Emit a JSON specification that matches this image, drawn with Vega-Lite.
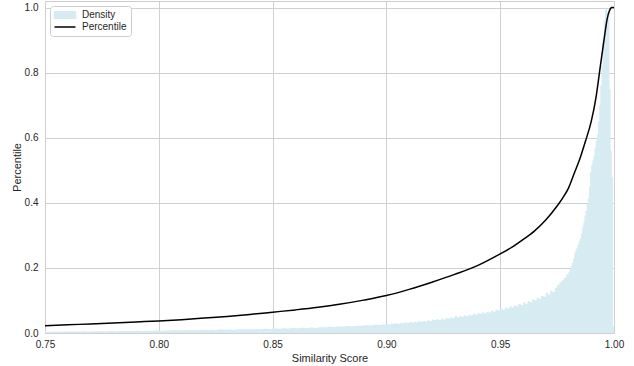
{
  "$schema": "https://vega.github.io/schema/vega-lite/v6.json",
  "width": 569,
  "height": 332,
  "autosize": "none",
  "padding": {"left": 45, "top": 1, "right": 20, "bottom": 33},
  "background": "white",
  "datasets": {
    "hist": [
      {"score":0.750,"density":0.0041},{"score":0.752,"density":0.0038},{"score":0.754,"density":0.0044},{"score":0.756,"density":0.0042},{"score":0.758,"density":0.0047},
      {"score":0.760,"density":0.0044},{"score":0.762,"density":0.0049},{"score":0.764,"density":0.0046},{"score":0.766,"density":0.0051},{"score":0.768,"density":0.0048},
      {"score":0.770,"density":0.0053},{"score":0.772,"density":0.0050},{"score":0.774,"density":0.0056},{"score":0.776,"density":0.0053},{"score":0.778,"density":0.0059},
      {"score":0.780,"density":0.0056},{"score":0.782,"density":0.0062},{"score":0.784,"density":0.0059},{"score":0.786,"density":0.0065},{"score":0.788,"density":0.0062},
      {"score":0.790,"density":0.0068},{"score":0.792,"density":0.0064},{"score":0.794,"density":0.0071},{"score":0.796,"density":0.0067},{"score":0.798,"density":0.0074},
      {"score":0.800,"density":0.0070},{"score":0.802,"density":0.0078},{"score":0.804,"density":0.0074},{"score":0.806,"density":0.0083},{"score":0.808,"density":0.0079},
      {"score":0.810,"density":0.0086},{"score":0.812,"density":0.0082},{"score":0.814,"density":0.0091},{"score":0.816,"density":0.0087},{"score":0.818,"density":0.0095},
      {"score":0.820,"density":0.0090},{"score":0.822,"density":0.0099},{"score":0.824,"density":0.0095},{"score":0.826,"density":0.0104},{"score":0.828,"density":0.0099},
      {"score":0.830,"density":0.0108},{"score":0.832,"density":0.0103},{"score":0.834,"density":0.0113},{"score":0.836,"density":0.0109},{"score":0.838,"density":0.0119},
      {"score":0.840,"density":0.0114},{"score":0.842,"density":0.0124},{"score":0.844,"density":0.0119},{"score":0.846,"density":0.0131},{"score":0.848,"density":0.0126},
      {"score":0.850,"density":0.0135},{"score":0.852,"density":0.0130},{"score":0.854,"density":0.0143},{"score":0.856,"density":0.0139},{"score":0.858,"density":0.0151},
      {"score":0.860,"density":0.0146},{"score":0.862,"density":0.0160},{"score":0.864,"density":0.0155},{"score":0.866,"density":0.0170},{"score":0.868,"density":0.0164},
      {"score":0.870,"density":0.0180},{"score":0.872,"density":0.0174},{"score":0.874,"density":0.0190},{"score":0.876,"density":0.0185},{"score":0.878,"density":0.0202},
      {"score":0.880,"density":0.0196},{"score":0.882,"density":0.0214},{"score":0.884,"density":0.0208},{"score":0.886,"density":0.0226},{"score":0.888,"density":0.0220},
      {"score":0.890,"density":0.0240},{"score":0.892,"density":0.0233},{"score":0.894,"density":0.0252},{"score":0.896,"density":0.0246},{"score":0.898,"density":0.0265},
      {"score":0.900,"density":0.0275},{"score":0.901,"density":0.0262},{"score":0.902,"density":0.0290},{"score":0.903,"density":0.0281},{"score":0.904,"density":0.0300},
      {"score":0.905,"density":0.0286},{"score":0.906,"density":0.0311},{"score":0.907,"density":0.0297},{"score":0.908,"density":0.0322},{"score":0.909,"density":0.0309},
      {"score":0.910,"density":0.0335},{"score":0.911,"density":0.0320},{"score":0.912,"density":0.0349},{"score":0.913,"density":0.0331},{"score":0.914,"density":0.0362},
      {"score":0.915,"density":0.0345},{"score":0.916,"density":0.0371},{"score":0.917,"density":0.0356},{"score":0.918,"density":0.0392},{"score":0.919,"density":0.0370},
      {"score":0.920,"density":0.0405},{"score":0.921,"density":0.0388},{"score":0.922,"density":0.0421},{"score":0.923,"density":0.0402},{"score":0.924,"density":0.0440},
      {"score":0.925,"density":0.0418},{"score":0.926,"density":0.0455},{"score":0.927,"density":0.0437},{"score":0.928,"density":0.0476},{"score":0.929,"density":0.0455},
      {"score":0.930,"density":0.0520},{"score":0.931,"density":0.0478},{"score":0.932,"density":0.0515},{"score":0.933,"density":0.0497},{"score":0.934,"density":0.0538},
      {"score":0.935,"density":0.0515},{"score":0.936,"density":0.0560},{"score":0.937,"density":0.0536},{"score":0.938,"density":0.0582},{"score":0.939,"density":0.0557},
      {"score":0.940,"density":0.0610},{"score":0.941,"density":0.0588},{"score":0.942,"density":0.0632},{"score":0.943,"density":0.0606},{"score":0.944,"density":0.0655},
      {"score":0.945,"density":0.0630},{"score":0.946,"density":0.0683},{"score":0.947,"density":0.0655},{"score":0.948,"density":0.0712},{"score":0.949,"density":0.0690},
      {"score":0.950,"density":0.0750},{"score":0.951,"density":0.0718},{"score":0.952,"density":0.0782},{"score":0.953,"density":0.0752},{"score":0.954,"density":0.0815},
      {"score":0.955,"density":0.0786},{"score":0.956,"density":0.0851},{"score":0.957,"density":0.0820},{"score":0.958,"density":0.0890},{"score":0.959,"density":0.0858},
      {"score":0.960,"density":0.0935},{"score":0.961,"density":0.0902},{"score":0.962,"density":0.0978},{"score":0.963,"density":0.0950},{"score":0.964,"density":0.1030},
      {"score":0.965,"density":0.1000},{"score":0.966,"density":0.1085},{"score":0.967,"density":0.1050},{"score":0.968,"density":0.1140},{"score":0.969,"density":0.1110},
      {"score":0.970,"density":0.1230},{"score":0.971,"density":0.1180},{"score":0.972,"density":0.1300},{"score":0.973,"density":0.1260},{"score":0.974,"density":0.1390},
      {"score":0.975,"density":0.1480},{"score":0.976,"density":0.1560},{"score":0.977,"density":0.1620},{"score":0.978,"density":0.1700},{"score":0.979,"density":0.1800},
      {"score":0.9800,"density":0.188},{"score":0.9805,"density":0.196},{"score":0.9810,"density":0.205},{"score":0.9815,"density":0.215},{"score":0.9820,"density":0.228},
      {"score":0.9825,"density":0.245},{"score":0.9830,"density":0.255},{"score":0.9835,"density":0.262},{"score":0.9840,"density":0.272},{"score":0.9845,"density":0.283},
      {"score":0.9850,"density":0.290},{"score":0.9855,"density":0.305},{"score":0.9860,"density":0.325},{"score":0.9865,"density":0.340},{"score":0.9870,"density":0.360},
      {"score":0.9875,"density":0.375},{"score":0.9880,"density":0.395},{"score":0.9885,"density":0.415},{"score":0.9890,"density":0.450},{"score":0.9895,"density":0.495},
      {"score":0.9900,"density":0.515},{"score":0.9905,"density":0.530},{"score":0.9910,"density":0.545},{"score":0.9915,"density":0.570},{"score":0.9920,"density":0.590},
      {"score":0.9925,"density":0.610},{"score":0.9930,"density":0.650},{"score":0.9935,"density":0.700},{"score":0.9940,"density":0.760},{"score":0.9945,"density":0.820},
      {"score":0.9950,"density":0.900},{"score":0.9955,"density":0.960},{"score":0.9960,"density":1.000},{"score":0.9965,"density":0.995},{"score":0.9970,"density":0.985},
      {"score":0.9975,"density":0.990},{"score":0.9980,"density":0.750},{"score":0.9985,"density":0.560},{"score":0.9990,"density":0.480},{"score":0.9995,"density":0.020},
      {"score":1.0000,"density":0.0}
    ],
    "cdf": [
      {"score":0.75,"pct":0.022},{"score":0.76,"pct":0.025},{"score":0.77,"pct":0.028},{"score":0.78,"pct":0.031},{"score":0.79,"pct":0.034},
      {"score":0.80,"pct":0.037},{"score":0.81,"pct":0.041},{"score":0.82,"pct":0.046},{"score":0.83,"pct":0.051},{"score":0.84,"pct":0.057},
      {"score":0.85,"pct":0.064},{"score":0.86,"pct":0.071},{"score":0.87,"pct":0.079},{"score":0.88,"pct":0.089},{"score":0.89,"pct":0.101},
      {"score":0.90,"pct":0.115},{"score":0.91,"pct":0.134},{"score":0.92,"pct":0.156},{"score":0.93,"pct":0.180},{"score":0.94,"pct":0.207},
      {"score":0.95,"pct":0.243},{"score":0.955,"pct":0.263},{"score":0.96,"pct":0.287},{"score":0.965,"pct":0.313},{"score":0.97,"pct":0.347},
      {"score":0.975,"pct":0.39},{"score":0.9775,"pct":0.415},{"score":0.98,"pct":0.445},{"score":0.9825,"pct":0.49},{"score":0.985,"pct":0.535},
      {"score":0.9875,"pct":0.59},{"score":0.99,"pct":0.65},{"score":0.992,"pct":0.72},{"score":0.994,"pct":0.82},{"score":0.995,"pct":0.87},
      {"score":0.996,"pct":0.92},{"score":0.997,"pct":0.965},{"score":0.998,"pct":0.99},{"score":0.9985,"pct":0.997},{"score":0.999,"pct":1.0},
      {"score":1.0,"pct":1.0}
    ]
  },
  "layer": [
    {
      "data": {"name": "hist"},
      "mark": {"type": "area", "interpolate": "step-after", "clip": true},
      "encoding": {
        "x": {"field": "score", "type": "quantitative", "scale": {"domain": [0.75, 1.0], "nice": false, "zero": false},
              "axis": {"values": [0.75, 0.8, 0.85, 0.9, 0.95, 1.0], "format": ".2f", "title": "Similarity Score", "labelPadding": 6, "titlePadding": 3, "labelFlush": false}},
        "y": {"field": "density", "type": "quantitative", "scale": {"domain": [0, 1.02], "nice": false},
              "axis": {"values": [0, 0.2, 0.4, 0.6, 0.8, 1.0], "format": ".1f", "title": "Percentile", "labelPadding": 7, "titlePadding": 2, "labelFlush": false}},
        "color": {"datum": "Density", "type": "nominal",
                  "scale": {"domain": ["Density", "Percentile"], "range": ["#d6ebf2", "#000000"]},
                  "legend": {"title": null, "orient": "top-left", "offset": 5, "symbolSize": 49, "symbolOffset": 6, "labelOffset": 12,
                    "encode": {"symbols": {"update": {
                      "shape": {"signal": "datum.value === 'Density' ? 'M-3,-0.9H3V0.9H-3Z' : 'M-3,0H3'"},
                      "fill": {"signal": "datum.value === 'Density' ? '#d6ebf2' : 'transparent'"},
                      "stroke": {"signal": "datum.value === 'Density' ? 'transparent' : '#000000'"},
                      "strokeWidth": {"value": 1.5},
                      "opacity": {"value": 1},
                      "size": {"value": 49}
                    }}}}}
      }
    },
    {
      "data": {"name": "cdf"},
      "mark": {"type": "line", "interpolate": "monotone", "strokeWidth": 1.5, "clip": true},
      "encoding": {
        "x": {"field": "score", "type": "quantitative"},
        "y": {"field": "pct", "type": "quantitative"},
        "color": {"datum": "Percentile", "type": "nominal"}
      }
    }
  ],
  "config": {
    "font": "Liberation Sans",
    "view": {"stroke": "#cccccc", "strokeWidth": 1},
    "axis": {"domain": false, "ticks": false, "grid": true, "gridColor": "#d0d0d0", "gridWidth": 1,
             "labelFont": "Liberation Sans", "labelFontSize": 10, "labelColor": "#262626",
             "titleFont": "Liberation Sans", "titleFontSize": 11, "titleFontWeight": "normal", "titleColor": "#262626"},
    "legend": {"labelFont": "Liberation Sans", "labelFontSize": 10, "labelColor": "#262626",
               "strokeColor": "#cccccc", "fillColor": "white", "cornerRadius": 3, "padding": 4,
               "rowPadding": 0}
  }
}
